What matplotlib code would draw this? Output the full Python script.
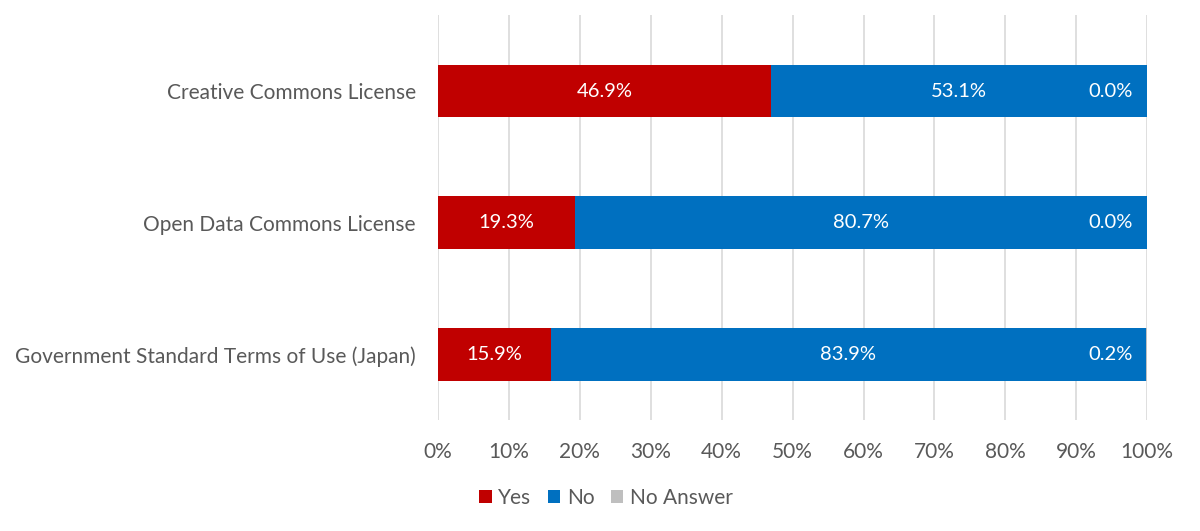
import numpy as np
import matplotlib.pyplot as plt

categories = ["Creative Commons License", "Open Data Commons License",
              "Government Standard Terms of Use (Japan)"]
yes_vals = np.array([46.9, 19.3, 15.9])
no_vals = np.array([53.1, 80.7, 83.9])
na_vals = np.array([0.0, 0.0, 0.2])
ticks = np.arange(0, 101, 10)

plt.rcParams['font.family'] = ['Lato', 'DejaVu Sans']
text_col = "#595959"

fig = plt.figure(figsize=(12, 5.31), dpi=100)
ax = fig.add_axes([0.365, 0.209, 0.591, 0.763])

y = np.arange(len(categories))
h = 0.40
ax.barh(y, yes_vals, height=h, color="#C00000", label="Yes", zorder=3)
ax.barh(y, no_vals, height=h, left=yes_vals, color="#0070C0", label="No", zorder=3)
ax.barh(y, na_vals, height=h, left=yes_vals + no_vals, color="#BFBFBF",
        label="No Answer", zorder=3)

for i in range(len(categories)):
    ax.text(yes_vals[i] / 2, y[i], f"{yes_vals[i]:.1f}%", color="white",
            ha="center", va="center", fontsize=14.5, zorder=4)
    ax.text(yes_vals[i] + no_vals[i] / 2, y[i], f"{no_vals[i]:.1f}%", color="white",
            ha="center", va="center", fontsize=14.5, zorder=4)
    ax.text(94.8, y[i], f"{na_vals[i]:.1f}%", color="white",
            ha="center", va="center", fontsize=14.5, zorder=4)

ax.set_xlim(0, 100)
ax.set_ylim(2.5, -0.58)
ax.set_xticks(ticks)
ax.set_xticklabels([f"{t}%" for t in ticks])
ax.set_yticks(y)
ax.set_yticklabels(categories)
ax.tick_params(axis="both", length=0, labelsize=15, colors=text_col)
ax.tick_params(axis="x", pad=16)
ax.tick_params(axis="y", pad=16)
ax.grid(axis="x", color="#D9D9D9", linewidth=1.2, zorder=0)
for s in ax.spines.values():
    s.set_visible(False)

leg = fig.legend(loc="center", bbox_to_anchor=(0.505, 0.062), ncol=3, frameon=False,
                 fontsize=15, handlelength=0.6, handleheight=0.6,
                 handletextpad=0.3, columnspacing=0.8)
for t in leg.get_texts():
    t.set_color(text_col)

fig.savefig("out.png", dpi=100)
